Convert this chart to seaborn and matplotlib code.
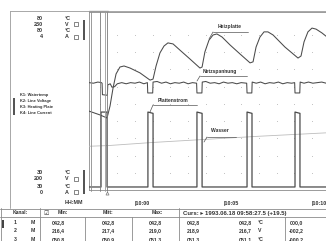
import matplotlib
matplotlib.use("Agg")
import matplotlib.pyplot as plt
from matplotlib.lines import Line2D
from matplotlib.patches import Rectangle
import seaborn as sns

# time axis: minutes relative to 10:00
t_water = [-2.60, -1.5, 1.0, 4.0, 7.0, 11.6]
water = [42.7, 42.9, 43.8, 44.7, 45.6, 46.8]

t_plate = [-2.60, -1.98, -1.58, -1.41, -1.24, -1.07, -0.85, -0.62, -0.28, 0.28, 0.85,
           1.02, 1.19, 1.41, 1.64, 1.86, 2.15, 2.54, 3.11, 3.67, 3.79, 3.95, 4.18,
           4.41, 4.63, 4.92, 5.37, 5.93, 6.50, 6.67, 6.84, 7.06, 7.29, 7.51, 7.80,
           8.47, 9.21, 9.38, 9.55, 9.77, 10.0, 10.23, 10.56, 11.0, 11.6]
plate = [52.9, 51.8, 50.9, 54.4, 59.6, 63.7, 65.7, 66.0, 65.4, 64.0, 61.9,
         62.2, 66.0, 69.8, 71.8, 72.7, 72.4, 70.6, 68.0, 65.4, 65.7, 70.1, 73.5,
         75.0, 75.3, 74.4, 72.1, 69.5, 66.9, 67.2, 71.5, 74.4, 75.9, 75.9, 75.0,
         71.5, 68.3, 68.9, 73.0, 75.9, 77.0, 76.7, 75.6, 73.8, 71.6]

t_volt = [-2.60, -2.35, -2.10, -1.90, -1.86, -1.84, -1.56, -1.54, -1.40, -1.30, -1.15,
          -1.00, -0.75, -0.50, -0.25, 0.00, 0.25, 0.50, 0.70, 0.72, 1.00, 1.02, 1.25,
          1.50, 1.75, 2.00, 2.25, 2.50, 2.75, 3.00, 3.25, 3.48, 3.50, 3.78, 3.80, 4.00,
          4.25, 4.50, 4.75, 5.00, 5.25, 5.50, 5.75, 6.00, 6.31, 6.33, 6.60, 6.62, 6.85,
          7.10, 7.35, 7.60, 7.85, 8.10, 8.35, 8.60, 8.85, 9.02, 9.04, 9.31, 9.33, 9.55,
          9.80, 10.05, 10.30, 10.55, 10.80, 11.05, 11.30, 11.60]
volt = [218.7, 218.6, 218.8, 218.7, 218.6, 216.6, 216.5, 218.3, 218.5, 217.9, 218.0,
        218.5, 218.7, 218.5, 218.7, 218.6, 218.8, 218.5, 218.7, 216.9, 216.9, 218.8, 218.9,
        218.6, 218.8, 218.5, 218.7, 218.6, 218.8, 218.5, 218.7, 218.6, 216.9, 216.9, 218.8, 218.9,
        218.6, 218.7, 218.5, 218.8, 218.6, 218.7, 218.5, 218.7, 218.6, 216.9, 216.9, 218.8, 218.6,
        218.8, 218.5, 218.7, 218.6, 218.8, 218.5, 218.7, 218.6, 218.7, 216.9, 216.9, 218.8, 218.6,
        218.8, 218.6, 218.7, 218.8, 218.6, 218.7, 218.6, 218.7]

t_curr = [-2.60, -1.92, -1.92, -1.58, -1.58, 0.73, 0.73, 1.02, 1.02, 3.50, 3.50, 3.79,
          3.79, 6.33, 6.33, 6.61, 6.61, 9.04, 9.04, 9.32, 9.32, 11.6]
curr = [0.07, 0.07, 1.81, 1.81, 0.07, 0.07, 1.81, 1.78, 0.07, 0.07, 1.81, 1.78,
        0.07, 0.07, 1.81, 1.78, 0.07, 0.07, 1.81, 1.78, 0.07, 0.07]

# channel scales (bottom / top of the display)
ch_names = ["K1: Watertemp", "K2: Line Voltage", "K3: Heating Plate", "K4: Line Current"]
ch_units = ["°C", "V", "°C", "A"]
ch_lo = [30, 200, 30, 0]
ch_hi = [80, 230, 80, 4]

tick_pos = [0, 5, 10]
tick_lab = ["|10:00", "|10:05", "|10:10"]

tab_head = ["Min:", "Mitt:", "Max:"]
tab_rows = [["042,8", "042,8", "042,8", "042,8", "042,8", "°C", "000,0"],
            ["216,4", "217,4", "219,0", "218,9", "216,7", "V", "-002,2"],
            ["050,8", "050,9", "051,3", "051,3", "051,1", "°C", "-000,2"]]
cursor_txt = "Curs: \u25b8 1993.06.18 09:58:27.5 (+19.5)"

sns.set_style("white")
plt.rcParams['font.family'] = ['Liberation Sans', 'DejaVu Sans']

W, H = 326, 241
def fx(x):
    return x / W
def fy(y):
    return 1 - y / H

fig = plt.figure(figsize=(W / 100, H / 100), dpi=100)
fig.patch.set_facecolor("white")

def hline(y, x0, x1, c="#8a8a8a", lw=0.6, **kw):
    fig.add_artist(Line2D([fx(x0), fx(x1)], [fy(y), fy(y)], color=c, lw=lw, **kw))
def vline(x, y0, y1, c="#8a8a8a", lw=0.6, **kw):
    fig.add_artist(Line2D([fx(x), fx(x)], [fy(y0), fy(y1)], color=c, lw=lw, **kw))
def txt(x, y, s, size=3.6, ha="left", **kw):
    fig.text(fx(x), fy(y), s, fontsize=size, ha=ha, va="center", fontweight="bold",
             color="#333333", **kw)

# main plot area
px_per_min = 17.7
x0_px, top_px, bot_px, right_px = 89, 12, 190, 340
ax = fig.add_axes([fx(x0_px), fy(bot_px), (right_px - x0_px) / W, (bot_px - top_px) / H])
ax.set_xlim((x0_px - 135) / px_per_min, (right_px - 135) / px_per_min)
pad = (17.75 - top_px) / (bot_px - 17.75)
ax.set_ylim(0, 1 + pad)
for s in ["left", "bottom", "top"]:
    ax.spines[s].set_color("#8a8a8a")
    ax.spines[s].set_linewidth(0.6)
ax.spines["right"].set_visible(False)
ax.set_yticks([])
ax.set_xticks(tick_pos)
ax.set_xticklabels(tick_lab, fontsize=3.9, fontweight="bold", color="#333333")
plt.setp(ax.get_xticklabels(), ha="left")
ax.tick_params(axis="x", length=0, pad=8.2)

# dotted grid
gx = [m for m in range(-2, 12) for _ in range(9)]
gy = [k / 10 for _ in range(-2, 12) for k in range(1, 10)]
ax.scatter(gx, gy, s=0.25, color="#a0a0a0", linewidths=0)

series = [(t_water, water), (t_volt, volt), (t_plate, plate), (t_curr, curr)]
for i, (tt, vv) in enumerate(series):
    tw = ax.twinx()
    lo, hi = ch_lo[i], ch_hi[i]
    tw.set_ylim(lo, hi + pad * (hi - lo))
    tw.set_axis_off()
    sns.lineplot(x=tt, y=vv, ax=tw, estimator=None, sort=False,
                 color="#bdbdbd" if i == 0 else "#4a4a4a",
                 lw=0.6 if i == 0 else (0.9 if i == 3 else 0.75))

# cursors and left border details
for xc, c in [(91, "#8a8a8a"), (100, "#7a7a7a"), (105, "#9a9a9a"), (107, "#7a7a7a")]:
    vline(xc, 12, 191, c=c, lw=0.6)
fig.add_artist(Line2D([fx(107)], [fy(193)], marker="^", ms=2.2, mfc="white",
                      mec="#777777", mew=0.5))
hline(10.5, 89, 108, c="#9a9a9a", lw=1.0)

# outer frame
hline(11, 10, W, c="#9a9a9a")
vline(10, 11, 208, c="#9a9a9a")

# curve labels with leaders
ann = [("Heizplatte", 218, 26, 213, 248, 32, 209, 39),
       ("Netzspannung", 203, 71, 200, 247, 76, 197, 81),
       ("Plattenstrom", 158, 100, 153, 197, 105, 150, 112),
       ("Wasser", 211, 131, 207, 236, 137, 204, 142)]
for s, tx, ty, ux0, ux1, uy, lx, ly in ann:
    txt(tx, ty, s, size=3.6)
    hline(uy, ux0, ux1, c="#555555", lw=0.5)
    fig.add_artist(Line2D([fx(ux0), fx(lx)], [fy(uy), fy(ly)], color="#555555", lw=0.5))

# left panel scale labels
top_vals = ["80", "230", "80", "4"]
bot_vals = ["30", "200", "30", "0"]
for rows, vals, bar in [([18, 24, 31, 37], top_vals, (20, 40)), ([172, 179, 186, 192], bot_vals, (170, 194))]:
    for j, y in enumerate(rows):
        txt(43, y, vals[j], size=3.9, ha="right")
        txt(65, y, ch_units[j], size=3.9)
        if j in (1, 3):
            fig.add_artist(Rectangle((fx(74), fy(y + 2)), 4 / W, 4 / H, fill=False,
                                     ec="#555555", lw=0.5))
    fig.add_artist(Rectangle((fx(82.5), fy(bar[1])), 2.5 / W, (bar[1] - bar[0]) / H,
                             fc="#555555", ec="none"))
txt(74, 203, "HH:MM", size=3.9, ha="center")

# channel legend
for j, name in enumerate(ch_names):
    txt(20, 95 + 6 * j, name, size=2.9)
fig.add_artist(Rectangle((fx(13), fy(115)), 2 / W, 17 / H, fc="#555555", ec="none"))

# table
hline(208.5, 0, W, c="#8a8a8a")
hline(217, 0, W, c="#8a8a8a")
vline(1, 208, H, c="#8a8a8a")
vline(40, 208, H)
vline(179, 208, H)
for xs in [85, 132, 285]:
    vline(xs, 217, H)
txt(13, 213, "Kanal:", size=3.6)
txt(43, 213, "\u2611", size=4.2, family=["DejaVu Sans"])
for xh, s in zip([63, 108, 157], tab_head):
    txt(xh, 213, s, size=3.6, ha="center")
txt(183, 213, cursor_txt, size=4.3)
vx = [58, 108, 155, 193, 245, 258, 296]
for r, (row, y) in enumerate(zip(tab_rows, [223, 231, 239.5])):
    txt(15, y, str(r + 1), size=3.7, ha="center")
    txt(33, y, "M", size=3.7, ha="center")
    for k, s in enumerate(row):
        txt(vx[k], y, s, size=3.7, ha="left" if k == 5 else "center")
fig.add_artist(Rectangle((fx(2), fy(228)), 2 / W, 8 / H, fc="#444444", ec="none"))

fig.savefig("out.png", dpi=100)
